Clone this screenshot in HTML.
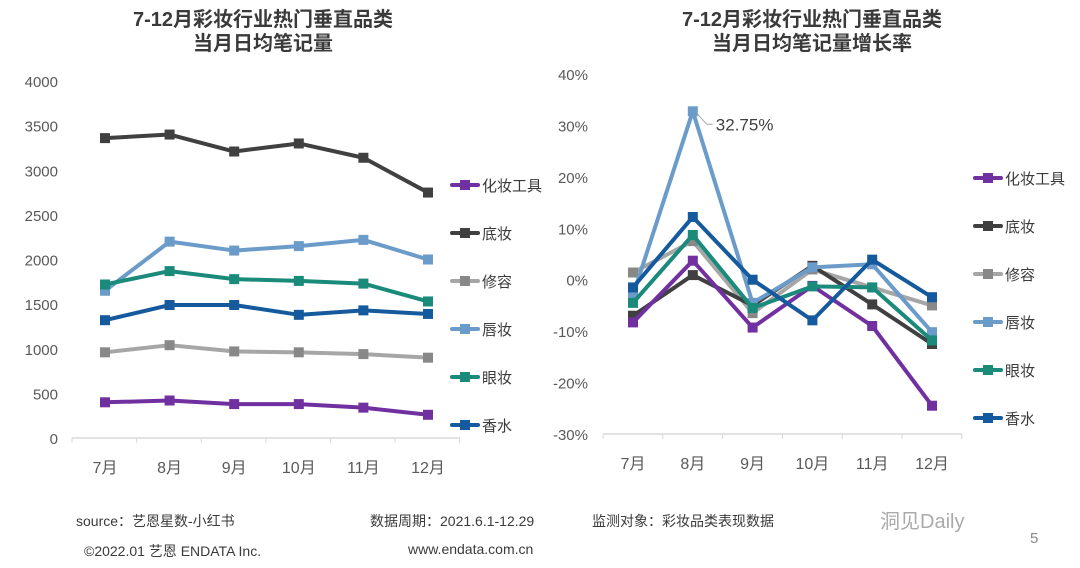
<!DOCTYPE html>
<html><head><meta charset="utf-8">
<style>
body{margin:0;background:#fff;font-family:"Liberation Sans","Noto Sans CJK SC",sans-serif;}
#wrap{position:relative;width:1080px;height:568px;overflow:hidden;background:#fff;}
.t{position:absolute;color:#3a3a3a;}
</style></head>
<body>
<div id="wrap">
<svg id="chartsvg" width="1080" height="568" style="position:absolute;left:0;top:0"></svg>
<div class="t" style="left:76px;top:511px;font-size:14px;">source：艺恩星数-小红书</div>
<div class="t" style="left:370px;top:511px;font-size:14px;">数据周期：2021.6.1-12.29</div>
<div class="t" style="left:592px;top:511px;font-size:14px;">监测对象：彩妆品类表现数据</div>
<div class="t" style="left:84px;top:541px;font-size:14px;">©2022.01 艺恩 ENDATA Inc.</div>
<div class="t" style="left:408px;top:541px;font-size:14px;">www.endata.com.cn</div>
<div class="t" style="left:880px;top:505px;font-size:20px;color:#aaa;">洞见Daily</div>
<div class="t" style="left:1030px;top:530px;font-size:15px;color:#888;">5</div>
</div>
<script>
var months=["7月","8月","9月","10月","11月","12月"];
var names=["化妆工具","底妆","修容","唇妆","眼妆","香水"];
var colors=["#7030a0","#404040","#a6a6a6","#6b9bc9","#1a8a7a","#155a9c"];
var markerColors=["#7030a0","#404040","#888888","#6b9bc9","#1a8a7a","#155a9c"];
var volTool=[400,420,380,380,340,260];
var volBase=[3360,3400,3210,3300,3140,2750];
var volContour=[960,1040,970,960,940,900];
var volLip=[1650,2200,2100,2150,2220,2000];
var volEye=[1720,1870,1780,1760,1730,1530];
var volPerfume=[1320,1490,1490,1380,1430,1390];
var grTool=[-8.3,3.7,-9.3,-1.2,-9.0,-24.5];
var grBase=[-7.0,0.9,-5.0,2.7,-4.8,-12.5];
var grContour=[1.4,7.5,-6.5,2.0,-1.5,-5.0];
var grLip=[-3.0,32.75,-4.5,2.4,3.0,-10.2];
var grEye=[-4.5,8.7,-5.5,-1.3,-1.5,-11.8];
var grPerfume=[-1.5,12.2,0,-7.9,3.9,-3.4];
var leftTicks=[0,500,1000,1500,2000,2500,3000,3500,4000];
var rightTicks=[-30,-20,-10,0,10,20,30,40];
var volSeries=[volTool,volBase,volContour,volLip,volEye,volPerfume];
var grSeries=[grTool,grBase,grContour,grLip,grEye,grPerfume];

var root=document.getElementById('chartsvg');
var NS='http://www.w3.org/2000/svg';
function mk(tag,attrs,parent){
  var el=document.createElementNS(NS,tag);
  for(var k in attrs){el.setAttribute(k,String(attrs[k]));}
  (parent||root).appendChild(el);
  return el;
}
function txt(px,py,s,size,anchor,fill,weight,parent){
  var el=mk('text',{x:px,y:py,'font-size':size,'text-anchor':anchor,fill:fill,'font-weight':weight||'normal','font-family':'Liberation Sans, Noto Sans CJK SC, sans-serif'},parent);
  el.textContent=s;
  return el;
}

var t1=txt(263,26,"7-12月彩妆行业热门垂直品类",20,'middle','#3a3a3a','bold');


var t2=txt(263,50,"当月日均笔记量",20,'middle','#3a3a3a','bold');


var t3=txt(812,26,"7-12月彩妆行业热门垂直品类",20,'middle','#3a3a3a','bold');


var t4=txt(812,50,"当月日均笔记量增长率",20,'middle','#3a3a3a','bold');



function scaleY(cfg,v){return cfg.y0+(v-cfg.min)/(cfg.max-cfg.min)*(cfg.y1-cfg.y0);}
function scaleX(cfg,i){return cfg.x0+i*cfg.dx;}

function drawChart(cfg){
  var g=mk('g',{});
  
  
  var i,j;
  for(i=0;i<cfg.ticks.length;i++){
    var tv=cfg.ticks[i];
    var lab=txt(cfg.tickX,scaleY(cfg,tv)+6,cfg.pct?(tv+'%'):String(tv),15,'end','#595959',null,g);
    
    
  }
  var ax=mk('line',{x1:cfg.ax0,x2:cfg.ax1,y1:cfg.axisY,y2:cfg.axisY,stroke:'#d9d9d9','stroke-width':1.5},g);
  
  
  for(i=0;i<=months.length;i++){
    mk('line',{x1:cfg.ax0+i*cfg.dx,x2:cfg.ax0+i*cfg.dx,y1:cfg.axisY,y2:cfg.axisY+5,stroke:'#d9d9d9','stroke-width':1},g);
  }
  for(i=0;i<months.length;i++){
    var ml=txt(scaleX(cfg,i),cfg.axisY+35,months[i],16,'middle','#595959',null,g);
    
    
  }
  for(j=0;j<cfg.order.length;j++){
    var si=cfg.order[j];
    var d=cfg.series[si];
    var pts=[];
    for(i=0;i<d.length;i++){pts.push(scaleX(cfg,i)+','+scaleY(cfg,d[i]));}
    var p=mk('polyline',{points:pts.join(' '),fill:'none',stroke:colors[si],'stroke-width':4,'stroke-linejoin':'round'},g);
    
    
    for(i=0;i<d.length;i++){
      var r=mk('rect',{x:scaleX(cfg,i)-5,y:scaleY(cfg,d[i])-5,width:10,height:10,fill:markerColors[si]},g);
      
      
    }
  }
  for(si=0;si<names.length;si++){
    var ly=cfg.legY+si*cfg.legDy;
    var lg=mk('g',{},g);
    
    
    mk('line',{x1:cfg.legX,x2:cfg.legX+26,y1:ly,y2:ly,stroke:colors[si],'stroke-width':4,'stroke-linecap':'round'},lg);
    mk('rect',{x:cfg.legX+8,y:ly-5,width:10,height:10,fill:markerColors[si]},lg);
    txt(cfg.legX+30,ly+6,names[si],15,'start','#3a3a3a',null,lg);
  }
  return g;
}
var leftCfg={name:'left-chart',series:volSeries,ticks:leftTicks,pct:false,order:[2,0,1,3,4,5],min:0,max:4000,y0:438,y1:81,x0:105,dx:64.6,tickX:58,ax0:72,ax1:460,axisY:438,legX:452,legY:185,legDy:48};
var rightCfg={name:'right-chart',series:grSeries,ticks:rightTicks,pct:true,order:[2,1,0,3,4,5],min:-30,max:40,y0:434,y1:74,x0:633,dx:59.8,tickX:588,ax0:603,ax1:962,axisY:434,legX:975,legY:178,legDy:48};
try{drawChart(leftCfg);}catch(err){}
try{
  var rg=drawChart(rightCfg);
  var lx=scaleX(rightCfg,1),lyv=scaleY(rightCfg,grLip[1]);
  mk('polyline',{points:(lx+4)+','+(lyv+2)+' '+(lx+14)+','+(lyv+13)+' '+(lx+20)+','+(lyv+13),fill:'none',stroke:'#a6a6a6','stroke-width':1},rg);
  var dl=txt(lx+23,lyv+19,grLip[1].toFixed(2)+'%',17,'start','#404040',null,rg);
  
  
}catch(err){}
</script>
</body></html>
